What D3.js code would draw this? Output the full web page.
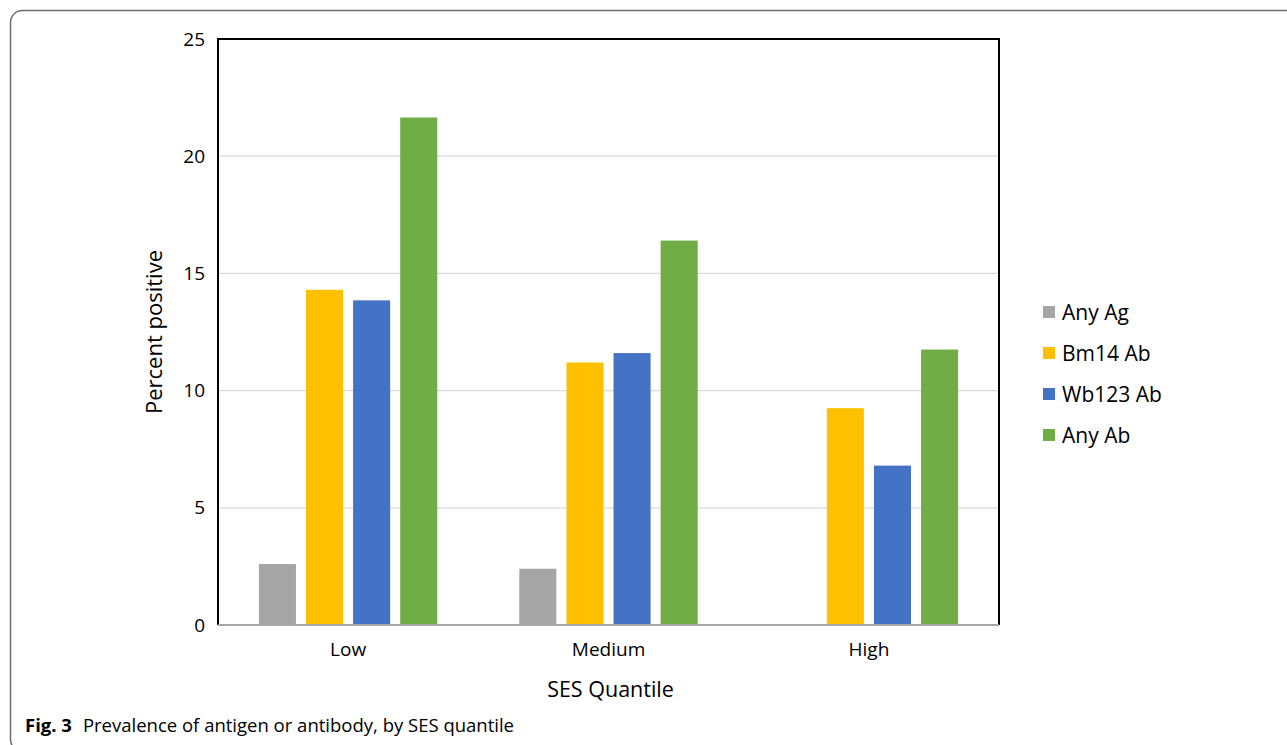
<!DOCTYPE html>
<html>
<head>
<meta charset="utf-8">
<script src="https://cdn.jsdelivr.net/npm/d3@7"></script>
<style>
  html, body { margin: 0; padding: 0; background: #fff; }
  svg { display: block; }
  text { font-family: "Open Sans", "Noto Sans", sans-serif; fill: #000; }
</style>
</head>
<body>
<svg id="chart" width="1287" height="745"></svg>
<script>
// Prevalence (%) by SES quantile
const categories = ["Low", "Medium", "High"];
const seriesNames = ["Any Ag", "Bm14 Ab", "Wb123 Ab", "Any Ab"];
const anyAg   = [2.6, 2.4, 0];
const bm14Ab  = [14.3, 11.2, 9.25];
const wb123Ab = [13.85, 11.6, 6.8];
const anyAb   = [21.65, 16.4, 11.75];
const yTicks  = [0, 5, 10, 15, 20, 25];
const colors  = ["#a5a5a5", "#ffc000", "#4472c4", "#70ad47"];

const seriesValues = [anyAg, bm14Ab, wb123Ab, anyAb];
const svg = d3.select("#chart");

// Outer figure frame with rounded corners
svg.append("rect")
  .attr("x", 10.5).attr("y", 10.5)
  .attr("width", 1300).attr("height", 741)
  .attr("rx", 12).attr("ry", 12)
  .attr("fill", "none").attr("stroke", "#6d6d6d").attr("stroke-width", 1.5);

const plot = { left: 218, right: 999, top: 39, bottom: 625 };

const x0 = d3.scaleBand().domain(categories)
  .range([plot.left, plot.right]).paddingInner(0.315).paddingOuter(0.157);
const x1 = d3.scaleBand().domain(seriesNames)
  .range([0, x0.bandwidth()]).paddingInner(0.213).paddingOuter(0);
const y = d3.scaleLinear().domain([0, 25]).range([plot.bottom, plot.top]);

// Gridlines
svg.append("g")
  .selectAll("line").data(yTicks.filter(t => t > 0 && t < 25)).join("line")
  .attr("x1", plot.left).attr("x2", plot.right)
  .attr("y1", d => y(d)).attr("y2", d => y(d))
  .attr("stroke", "#d9d9d9").attr("stroke-width", 1.3);

// Bars
const groups = svg.append("g").selectAll("g")
  .data(categories).join("g")
  .attr("transform", d => `translate(${x0(d)},0)`);

groups.selectAll("rect")
  .data((c, i) => seriesNames.map((s, j) => ({ s, j, v: seriesValues[j][i] })))
  .join("rect")
  .attr("x", d => x1(d.s))
  .attr("width", x1.bandwidth())
  .attr("y", d => y(d.v))
  .attr("height", d => y(0) - y(d.v))
  .attr("fill", d => colors[d.j]);

// Plot frame: black top/left/right, gray baseline
svg.append("path")
  .attr("d", `M${plot.left},${plot.bottom}V${plot.top}H${plot.right}V${plot.bottom}`)
  .attr("fill", "none").attr("stroke", "#000").attr("stroke-width", 2);
svg.append("line")
  .attr("x1", plot.left).attr("x2", plot.right)
  .attr("y1", plot.bottom).attr("y2", plot.bottom)
  .attr("stroke", "#a6a6a6").attr("stroke-width", 2);

// Y axis tick labels
const yAxis = d3.axisLeft(y).tickValues(yTicks).tickSize(0).tickPadding(13);
const gy = svg.append("g").attr("transform", `translate(${plot.left},0)`).call(yAxis);
gy.select(".domain").remove();
gy.selectAll("text").style("font-size", "19px").style("font-family", "\"Open Sans\", sans-serif").attr("fill", "#000");

// X axis category labels
const xAxis = d3.axisBottom(x0).tickSize(0).tickPadding(18);
const gx = svg.append("g").attr("transform", `translate(0,${plot.bottom})`).call(xAxis);
gx.select(".domain").remove();
gx.selectAll("text").style("font-size", "19px").style("font-family", "\"Open Sans\", sans-serif").attr("fill", "#000");

// Axis titles
svg.append("text")
  .attr("transform", `translate(156,${(plot.top + plot.bottom) / 2}) rotate(-90)`)
  .attr("text-anchor", "middle").attr("dominant-baseline", "middle")
  .style("font-size", "22px").text("Percent positive");
svg.append("text")
  .attr("x", (plot.left + plot.right) / 2 + 2).attr("y", 697)
  .attr("text-anchor", "middle")
  .style("font-size", "21.5px").text("SES Quantile");

// Legend
const legend = svg.append("g").attr("transform", "translate(1043,312)");
const li = legend.selectAll("g").data(seriesNames).join("g")
  .attr("transform", (d, i) => `translate(0,${i * 41})`);
li.append("rect").attr("x", 0).attr("y", -6).attr("width", 12).attr("height", 12)
  .attr("fill", (d, i) => colors[i]);
li.append("text").attr("x", 19).attr("y", 0).attr("dominant-baseline", "central")
  .style("font-size", "21px").text(d => d);

// Figure caption
const cap = svg.append("text").attr("x", 25).attr("y", 732).style("font-size", "18.5px");
cap.append("tspan").attr("font-weight", "bold").text("Fig. 3");
cap.append("tspan").attr("dx", 11).text("Prevalence of antigen or antibody, by SES quantile");
</script>
</body>
</html>
